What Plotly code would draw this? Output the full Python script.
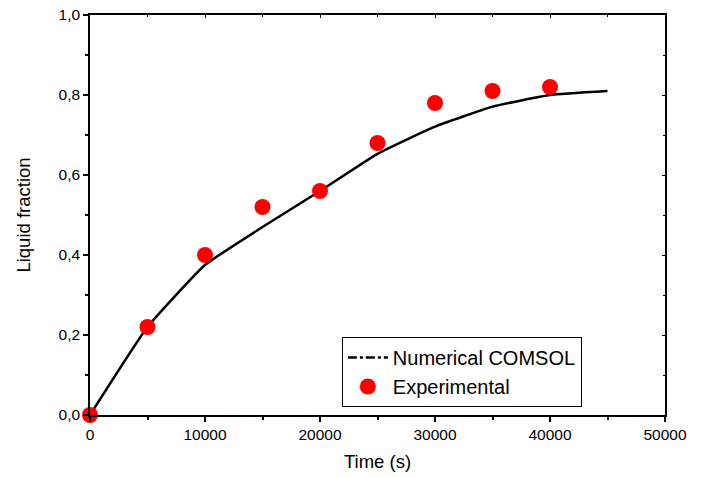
import plotly.graph_objects as go

# Data
time_num = [0, 5000, 10000, 15000, 20000, 25000, 30000, 35000, 40000, 45000]
frac_num = [0.0, 0.22, 0.375, 0.47, 0.56, 0.653, 0.721, 0.771, 0.80, 0.81]
time_exp = [0, 5000, 10000, 15000, 20000, 25000, 30000, 35000, 40000]
frac_exp = [0.0, 0.22, 0.40, 0.52, 0.56, 0.68, 0.78, 0.81, 0.82]
x_ticks = [0, 10000, 20000, 30000, 40000, 50000]
y_ticks = [0.0, 0.2, 0.4, 0.6, 0.8, 1.0]

FONT = "Liberation Sans, Arial, sans-serif"

fig = go.Figure()

fig.add_trace(go.Scatter(
    x=time_num, y=frac_num, mode="lines",
    line=dict(color="black", width=2.5, shape="spline", smoothing=0.4),
    showlegend=False, cliponaxis=False,
))
# legend entry for the numerical line (dash-dot symbol as in the original)
fig.add_trace(go.Scatter(
    x=[None], y=[None], mode="lines", name="Numerical COMSOL",
    line=dict(color="black", width=2.5, dash="dashdot"),
))
fig.add_trace(go.Scatter(
    x=time_exp, y=frac_exp, mode="markers", name="Experimental",
    marker=dict(color="#ff0000", size=16, line=dict(width=0)),
    cliponaxis=False,
))
# mirror axes (top/right, inside ticks)
fig.add_trace(go.Scatter(x=[None], y=[None], xaxis="x2", yaxis="y2",
                         showlegend=False, hoverinfo="skip"))

fig.update_layout(
    width=701, height=477,
    margin=dict(l=82, r=44, t=7, b=70),
    paper_bgcolor="white", plot_bgcolor="white",
    separators=", ",
    font=dict(family=FONT, color="black", size=15),
    xaxis=dict(
        range=[0, 50000], tickvals=x_ticks, tickformat="d", automargin=False,
        ticklabeloverflow="allow",
        showgrid=False, zeroline=False,
        showline=True, linecolor="black", linewidth=1.5,
        ticks="outside", ticklen=5, tickwidth=1.5, tickcolor="black",
        minor=dict(dtick=5000, ticks="outside", ticklen=3, tickwidth=1.5, tickcolor="black"),
        tickfont=dict(size=15.5),
        title=dict(text="Time (s)", font=dict(size=18.5), standoff=13),
    ),
    yaxis=dict(
        range=[0, 1.0], tickvals=y_ticks, tickformat=".1f", automargin=False,
        ticklabeloverflow="allow",
        showgrid=False, zeroline=False,
        showline=True, linecolor="black", linewidth=1.5,
        ticks="outside", ticklen=5, tickwidth=1.5, tickcolor="black",
        minor=dict(dtick=0.1, ticks="outside", ticklen=3, tickwidth=1.5, tickcolor="black"),
        tickfont=dict(size=15.5),
        title=dict(text="Liquid fraction", font=dict(size=18.5), standoff=23),
    ),
    xaxis2=dict(
        overlaying="x", side="top", anchor="y2", range=[0, 50000], automargin=False,
        tickvals=x_ticks, showticklabels=False, showgrid=False, zeroline=False,
        showline=True, linecolor="black", linewidth=1.5,
        ticks="inside", ticklen=3, tickwidth=1, tickcolor="black",
        minor=dict(dtick=5000, ticks="inside", ticklen=2, tickwidth=1, tickcolor="black"),
    ),
    yaxis2=dict(
        overlaying="y", side="right", anchor="x2", range=[0, 1.0], automargin=False,
        tickvals=y_ticks, showticklabels=False, showgrid=False, zeroline=False,
        showline=True, linecolor="black", linewidth=1.5,
        ticks="inside", ticklen=3, tickwidth=1, tickcolor="black",
        minor=dict(dtick=0.1, ticks="inside", ticklen=2, tickwidth=1, tickcolor="black"),
    ),
    legend=dict(
        x=0.438, y=0.195, xanchor="left", yanchor="top",
        bgcolor="white", bordercolor="black", borderwidth=1,
        font=dict(size=20, family=FONT), itemwidth=40,
        tracegroupgap=0,
    ),
)

fig.write_html("out.html")
